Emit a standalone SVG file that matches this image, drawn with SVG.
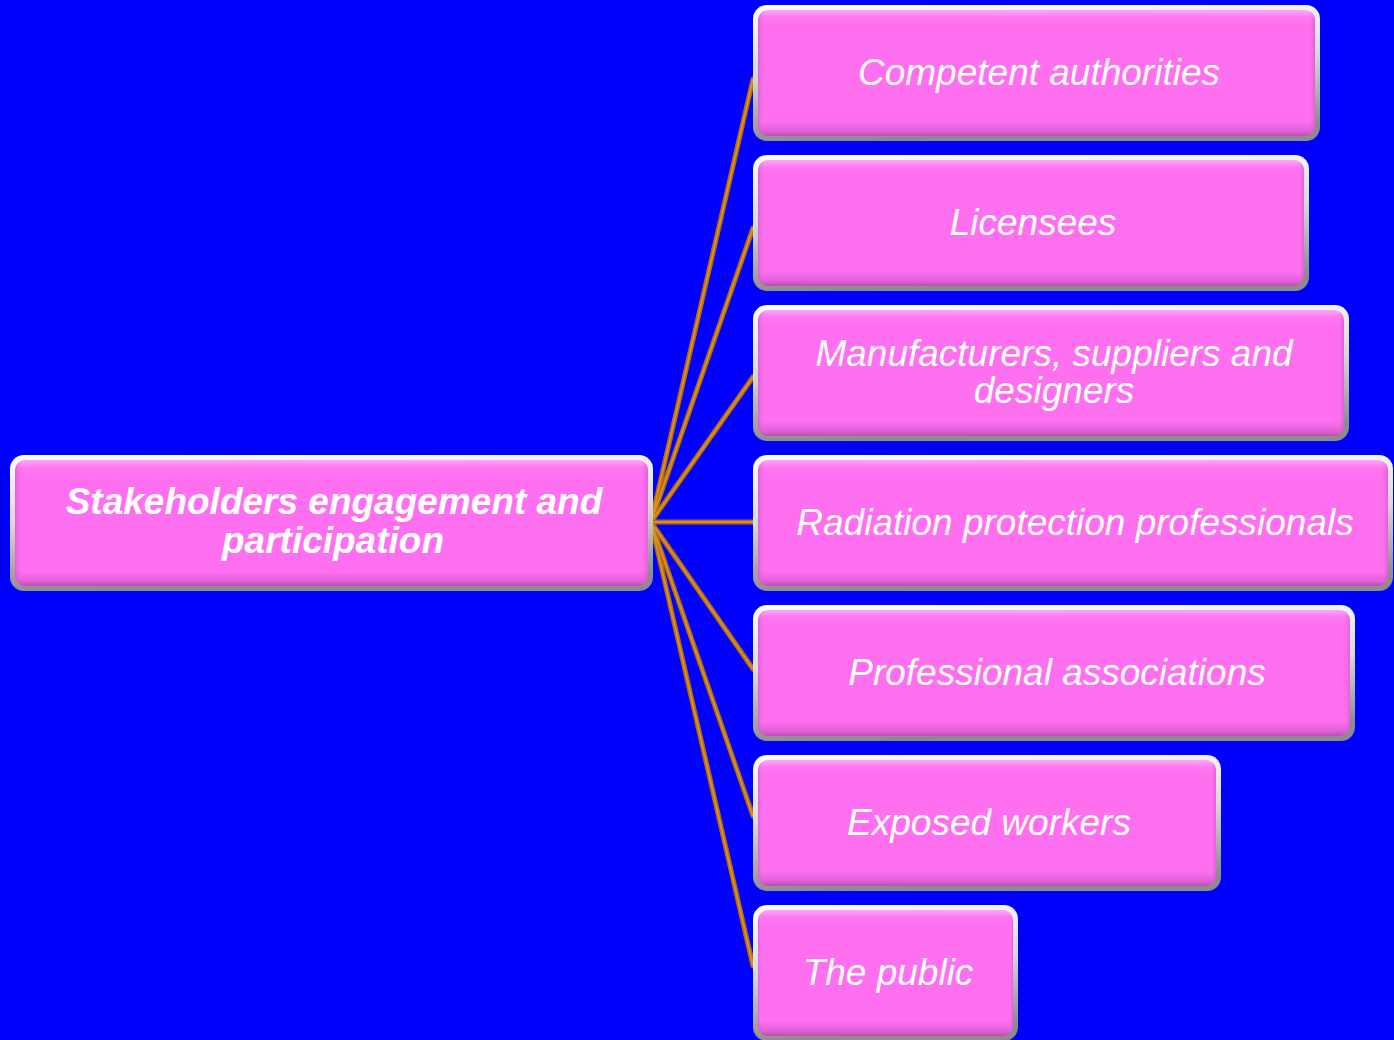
<svg xmlns="http://www.w3.org/2000/svg" width="1394" height="1040" viewBox="0 0 1394 1040">
<defs>
<linearGradient id="bevel" x1="0" y1="0" x2="0.15" y2="1">
<stop offset="0" stop-color="#FFFFFF"/>
<stop offset="0.5" stop-color="#D8D8D8"/>
<stop offset="1" stop-color="#8C8C8C"/>
</linearGradient>
<linearGradient id="pink" x1="0" y1="0" x2="0" y2="1">
<stop offset="0" stop-color="#FFA8F8"/>
<stop offset="0.06" stop-color="#FF78F2"/>
<stop offset="0.12" stop-color="#FF70F0"/>
<stop offset="0.88" stop-color="#FF70F0"/>
<stop offset="0.96" stop-color="#E060D8"/>
<stop offset="1" stop-color="#B850B0"/>
</linearGradient>
<linearGradient id="side" x1="0" y1="0" x2="1" y2="0">
<stop offset="0" stop-color="#C050B8" stop-opacity="0.5"/>
<stop offset="0.012" stop-color="#FF70F0" stop-opacity="0"/>
<stop offset="0.988" stop-color="#FF70F0" stop-opacity="0"/>
<stop offset="1" stop-color="#C050B8" stop-opacity="0.5"/>
</linearGradient>
</defs>
<style>
.o{fill:url(#bevel);}
.i{fill:url(#pink);}
.s{fill:url(#side);}
.t{font-family:"Liberation Sans",Arial,sans-serif;font-style:italic;font-size:37px;fill:#FFFFFF;text-anchor:middle;}
.b{font-weight:bold;font-size:37px;}
.c{stroke:#B06A14;stroke-width:5;fill:none;stroke-linecap:round;}
.c2{stroke:#D9901F;stroke-width:2;fill:none;}
</style>
<rect x="0" y="0" width="1394" height="1040" fill="#0000FF"/>
<g id="connectors">
<path class="c" d="M651,522 L753,79 M651,522 L753,228 M651,522 L753,377 M651,522 L753,522 M651,522 L753,669 M651,522 L753,816 M651,522 L753,966"/>
<path class="c2" d="M651,522 L753,79 M651,522 L753,228 M651,522 L753,377 M651,522 L753,522 M651,522 L753,669 M651,522 L753,816 M651,522 L753,966"/>
</g>
<g id="center">
<rect class="o" x="10" y="455" width="643" height="136" rx="14"/>
<rect class="i" x="15" y="460" width="633" height="126" rx="10"/>
<rect class="s" x="15" y="460" width="633" height="126" rx="10"/>
<text class="t b" x="334" y="514">Stakeholders engagement and</text>
<text class="t b" x="333" y="553">participation</text>
</g>
<g id="n1">
<rect class="o" x="753" y="5" width="567" height="136" rx="14"/>
<rect class="i" x="758" y="10" width="557" height="126" rx="10"/>
<rect class="s" x="758" y="10" width="557" height="126" rx="10"/>
<text class="t" x="1039" y="85">Competent authorities</text>
</g>
<g id="n2">
<rect class="o" x="753" y="155" width="556" height="136" rx="14"/>
<rect class="i" x="758" y="160" width="546" height="126" rx="10"/>
<rect class="s" x="758" y="160" width="546" height="126" rx="10"/>
<text class="t" x="1033" y="235">Licensees</text>
</g>
<g id="n3">
<rect class="o" x="753" y="305" width="596" height="136" rx="14"/>
<rect class="i" x="758" y="310" width="586" height="126" rx="10"/>
<rect class="s" x="758" y="310" width="586" height="126" rx="10"/>
<text class="t" x="1054" y="366">Manufacturers, suppliers and</text>
<text class="t" x="1054" y="403">designers</text>
</g>
<g id="n4">
<rect class="o" x="753" y="455" width="640" height="136" rx="14"/>
<rect class="i" x="758" y="460" width="630" height="126" rx="10"/>
<rect class="s" x="758" y="460" width="630" height="126" rx="10"/>
<text class="t" x="1075" y="535">Radiation protection professionals</text>
</g>
<g id="n5">
<rect class="o" x="753" y="605" width="602" height="136" rx="14"/>
<rect class="i" x="758" y="610" width="592" height="126" rx="10"/>
<rect class="s" x="758" y="610" width="592" height="126" rx="10"/>
<text class="t" x="1057" y="685">Professional associations</text>
</g>
<g id="n6">
<rect class="o" x="753" y="755" width="468" height="136" rx="14"/>
<rect class="i" x="758" y="760" width="458" height="126" rx="10"/>
<rect class="s" x="758" y="760" width="458" height="126" rx="10"/>
<text class="t" x="989" y="835">Exposed workers</text>
</g>
<g id="n7">
<rect class="o" x="753" y="905" width="265" height="136" rx="14"/>
<rect class="i" x="758" y="910" width="255" height="126" rx="10"/>
<rect class="s" x="758" y="910" width="255" height="126" rx="10"/>
<text class="t" x="888" y="985">The public</text>
</g>
</svg>
